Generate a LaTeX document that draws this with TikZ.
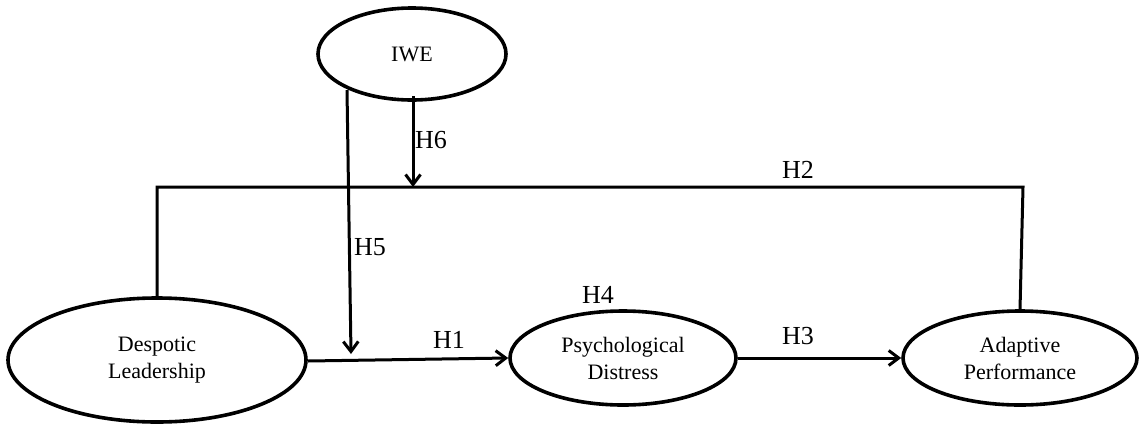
\documentclass[tikz,border=0pt]{standalone}
\usepackage{fontspec}
\setmainfont{Liberation Serif}
\usetikzlibrary{shapes.geometric,arrows.meta}
\begin{document}
\begin{tikzpicture}[x=1pt,y=-1pt,
  construct/.style={draw=black, line width=3.6pt, ellipse, inner sep=0pt, align=center,
    font=\fontsize{22}{27}\selectfont},
  link/.style={draw=black, line width=3pt},
  arr/.style={link, -{Straight Barb[length=10pt,width=15pt,line width=3pt]}},
  hlabel/.style={anchor=base, inner sep=0pt, font=\fontsize{26}{30}\selectfont}]
\useasboundingbox (0,0) rectangle (1139,426);
\fill[white] (0,0) rectangle (1139,426);

\node[construct, minimum width=188pt, minimum height=92pt] (iwe) at (412,54) {IWE};
\node[construct, minimum width=298pt, minimum height=124pt] (dl) at (157,360) {Despotic\\Leadership};
\node[construct, minimum width=226pt, minimum height=94pt] (pd) at (623,358) {Psychological\\Distress};
\node[construct, minimum width=234pt, minimum height=94pt] (ap) at (1020,358) {Adaptive\\Performance};

% H2 bracket
\coordinate (c1) at (157,187);
\coordinate (c2) at (1023,187);
\draw[link, line join=miter] (dl.north) -- (c1) -- (c2) -- (ap.north);

% H6 moderation arrow
\coordinate (h6s) at (413,96);
\coordinate (h6e) at (413,187);
\draw[arr] (h6s) -- (h6e);

% H5 moderation arrow
\coordinate (h5s) at (347,90);
\coordinate (h5e) at (351,354);
\draw[arr] (h5s) -- (h5e);

% H1, H3
\draw[arr] (dl.east) ++(0,1) coordinate (h1s) -- (pd.west);
\draw[arr] (pd.east) -- (ap.west);

\node[hlabel] (l6) at (431,148) {H6};
\node[hlabel] (l5) at (370,255) {H5};
\node[hlabel] (l2) at (798,178) {H2};
\node[hlabel] (l4) at (598,303) {H4};
\node[hlabel] (l1) at (449,348) {H1};
\node[hlabel] (l3) at (798,344) {H3};
\end{tikzpicture}
\end{document}
